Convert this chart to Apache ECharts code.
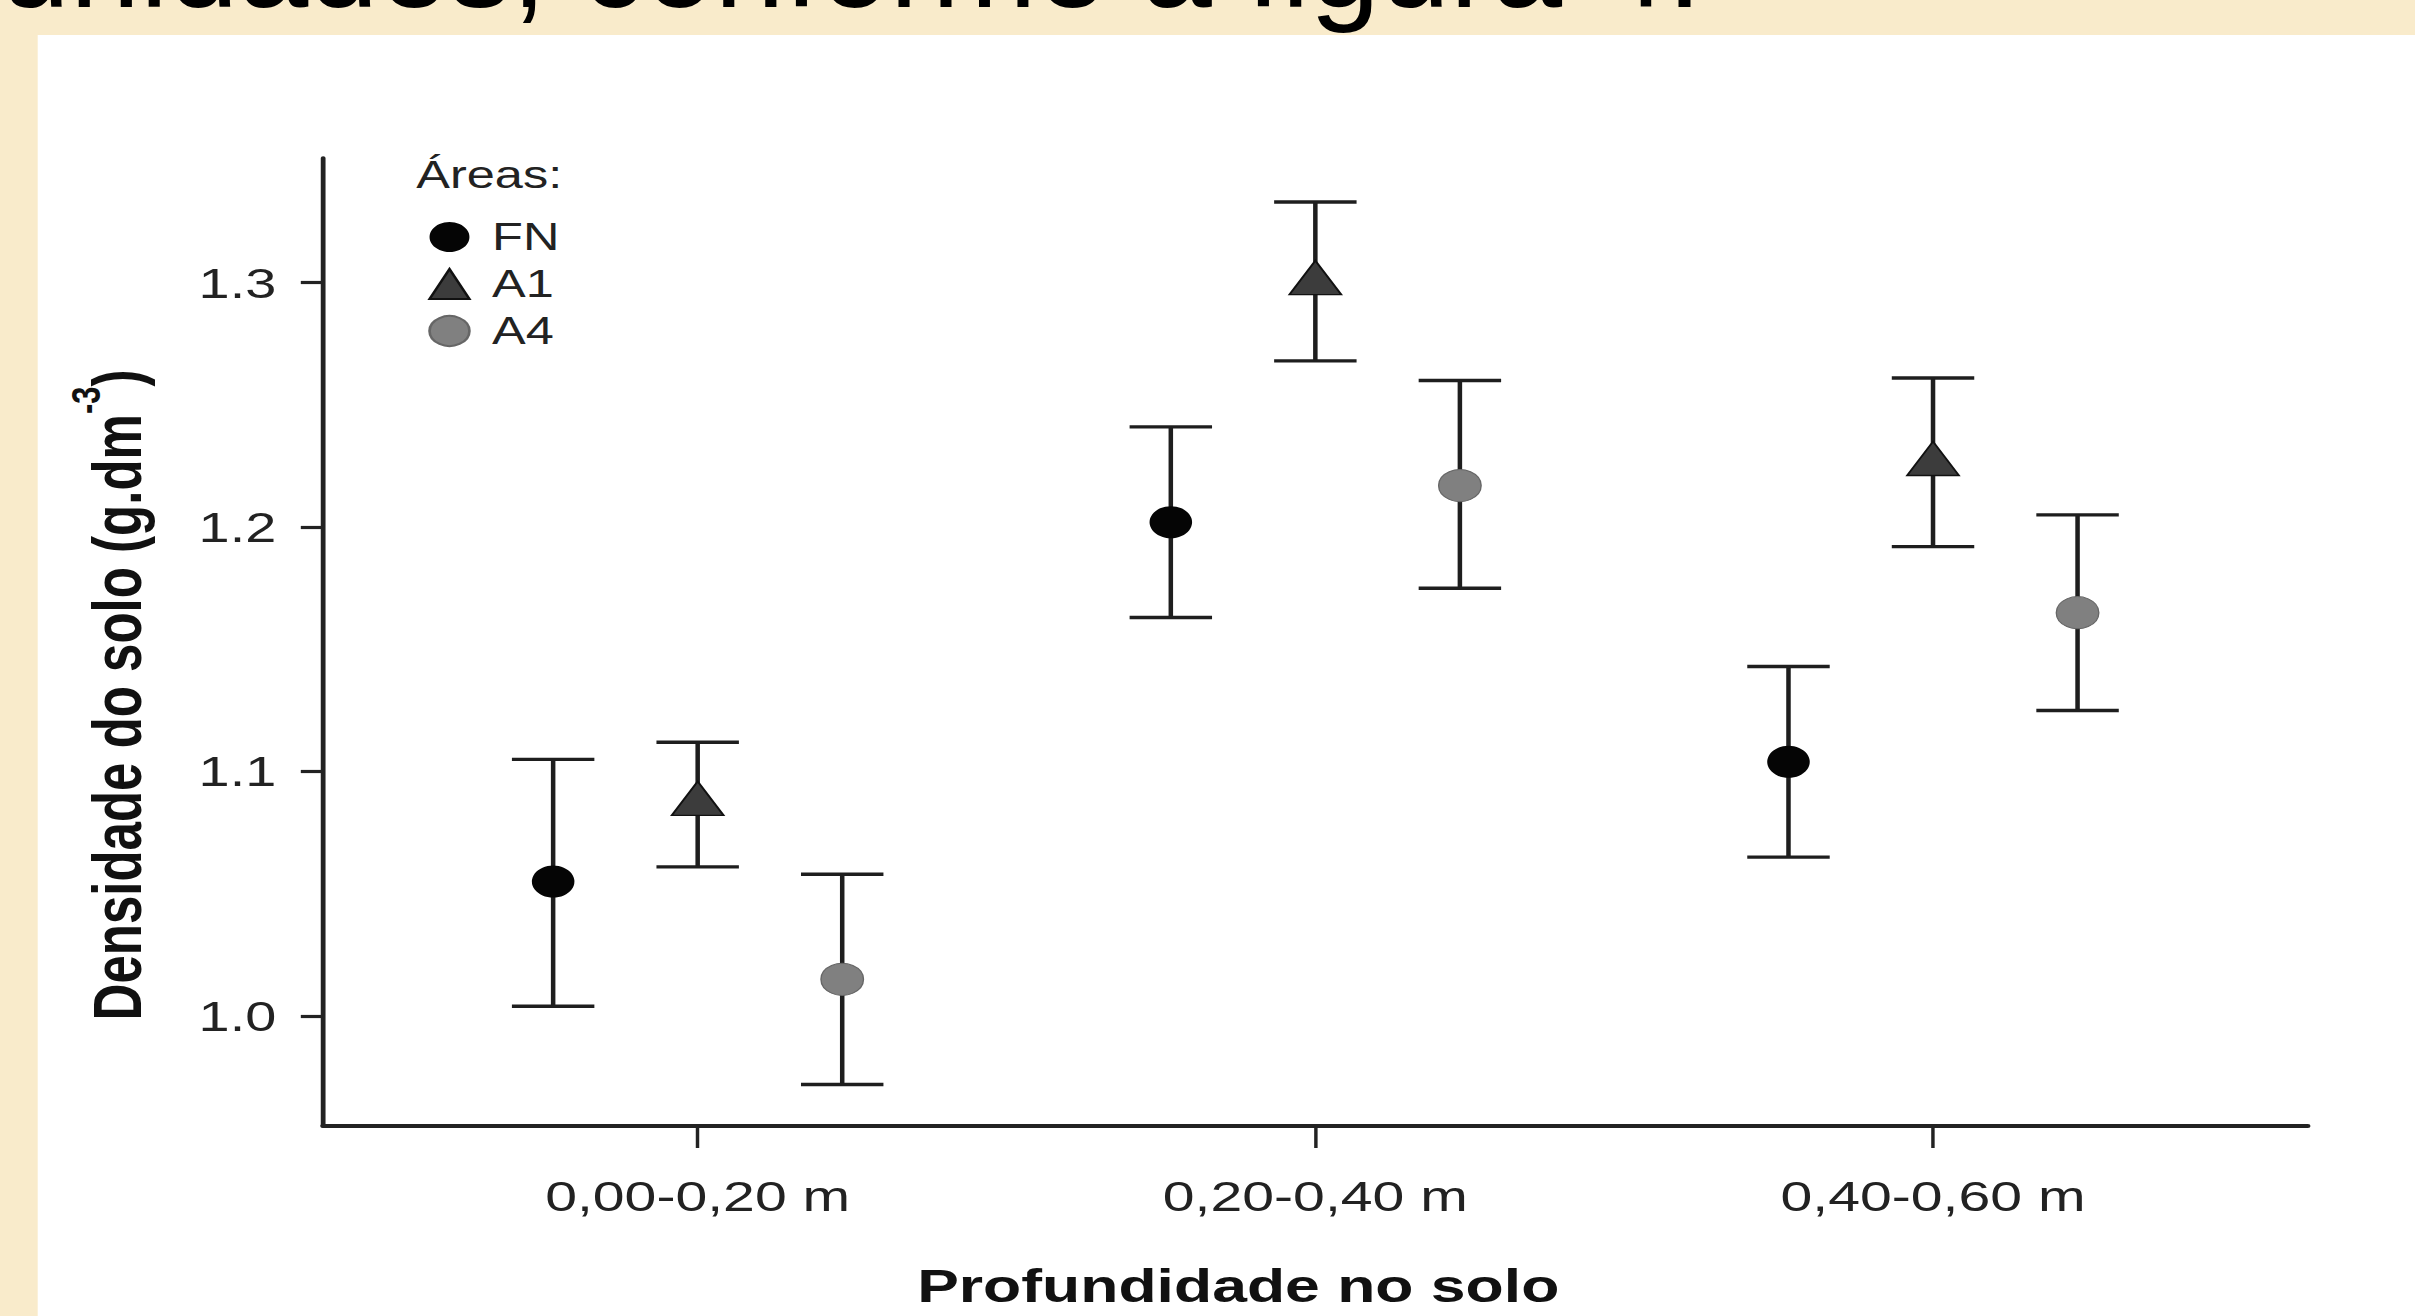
<!DOCTYPE html>
<html>
<head>
<meta charset="utf-8">
<script src="https://cdn.jsdelivr.net/npm/echarts@6/dist/echarts.min.js"></script>
<style>
html, body { margin: 0; padding: 0; width: 2415px; height: 1316px; overflow: hidden; background: #f9ebcb; }
#chart { width: 1816px; height: 1316px; transform: scaleX(1.329846); transform-origin: 0 0; }
</style>
</head>
<body>
<div id="chart"></div>
<script>
// ---- data ----
const categories = ['0,00-0,20 m', '0,20-0,40 m', '0,40-0,60 m'];
const seriesNames = ['FN', 'A1', 'A4'];
const fnMean  = [1.055, 1.202, 1.104];
const fnLower = [1.004, 1.163, 1.065];
const fnUpper = [1.105, 1.241, 1.143];
const a1Mean  = [1.087, 1.300, 1.226];
const a1Lower = [1.061, 1.268, 1.192];
const a1Upper = [1.112, 1.333, 1.261];
const a4Mean  = [1.015, 1.217, 1.165];
const a4Lower = [0.972, 1.175, 1.125];
const a4Upper = [1.058, 1.260, 1.205];
const yTickValues = [1.0, 1.1, 1.2, 1.3];
const yAxisTitle = 'Densidade do solo (g.dm';
const yAxisTitleSup = '-3';
const xAxisTitle = 'Profundidade no solo';
const legendTitle = 'Áreas:';
const pageText = 'unidades, conforme a figura 4.';

// ---- layout ----
const SX = 1.329846;               // horizontal stretch of the original figure
const FONT = '"Liberation Sans", Arial, Helvetica, sans-serif';
const dodge = [-0.234, 0, 0.234];
const xTickValues = categories.map((c, i) => i + 1);

const groups = [
  { name: 'FN', mean: fnMean, lower: fnLower, upper: fnUpper,
    symbol: 'circle', size: 32, offset: [0, 0], color: '#050505', border: '#000000', bw: 0 },
  { name: 'A1', mean: a1Mean, lower: a1Lower, upper: a1Upper,
    symbol: 'triangle', size: [39, 34], offset: [0, -5], color: '#3c3c3c', border: '#111111', bw: 1.5 },
  { name: 'A4', mean: a4Mean, lower: a4Lower, upper: a4Upper,
    symbol: 'circle', size: 32, offset: [0, 0], color: '#808080', border: '#666666', bw: 1 }
];

function errorBarItem(params, api) {
  const x = api.value(0);
  const pHi = api.coord([x, api.value(2)]);
  const pLo = api.coord([x, api.value(1)]);
  const hw = 31;
  const st = { stroke: '#1e1e1e', lineWidth: 3.4 };
  return {
    type: 'group',
    children: [
      { type: 'line', shape: { x1: pHi[0], y1: pHi[1], x2: pLo[0], y2: pLo[1] }, style: st },
      { type: 'line', shape: { x1: pHi[0] - hw, y1: pHi[1], x2: pHi[0] + hw, y2: pHi[1] }, style: st },
      { type: 'line', shape: { x1: pLo[0] - hw, y1: pLo[1], x2: pLo[0] + hw, y2: pLo[1] }, style: st }
    ]
  };
}

const series = [];
groups.forEach((g, gi) => {
  series.push({
    name: g.name + ' erro',
    type: 'custom',
    renderItem: errorBarItem,
    encode: { x: 0, y: [1, 2] },
    data: categories.map((c, i) => [i + 1 + dodge[gi], g.lower[i], g.upper[i]]),
    z: 2,
    silent: true
  });
});
groups.forEach((g, gi) => {
  series.push({
    name: g.name,
    type: 'scatter',
    symbol: g.symbol,
    symbolSize: g.size,
    symbolOffset: g.offset,
    itemStyle: { color: g.color, borderColor: g.border, borderWidth: g.bw, opacity: 1 },
    data: categories.map((c, i) => [i + 1 + dodge[gi], g.mean[i]]),
    z: 5
  });
});

const chart = echarts.init(document.getElementById('chart'), null, { renderer: 'svg' });
chart.setOption({
  animation: false,
  backgroundColor: '#f9ebcb',
  textStyle: { fontFamily: FONT },
  graphic: [
    { type: 'rect', z: -10, silent: true,
      shape: { x: 37.7 / SX, y: 35, width: 1816, height: 1300 },
      style: { fill: '#ffffff' } },
    { type: 'text', z: 10, silent: true, x: 0, y: -36, scaleX: 1 / SX,
      style: { text: pageText, fontSize: 126, fontFamily: FONT, fill: '#000000',
               align: 'left', verticalAlign: 'middle' } }
  ],
  title: {
    text: legendTitle, left: 313, top: 156, padding: 0,
    textStyle: { fontSize: 38, fontWeight: 'normal', color: '#222222', fontFamily: FONT }
  },
  legend: {
    data: seriesNames, orient: 'vertical', left: 322, top: 218, padding: 0,
    itemWidth: 30, itemHeight: 30, itemGap: 9,
    textStyle: { fontSize: 38, color: '#222222', fontFamily: FONT, padding: [0, 0, 0, 12] },
    selectedMode: false
  },
  grid: { left: 242.7, right: 80.5, top: 158, bottom: 190, containLabel: false, outerBoundsMode: 'none' },
  xAxis: {
    type: 'value', min: 0.393, max: 3.607,
    name: xAxisTitle, nameLocation: 'middle', nameGap: 140,
    nameTextStyle: { fontSize: 47, lineHeight: 40, fontWeight: 'bold', color: '#111111', fontFamily: FONT, padding: [0, 116, 0, 0] },
    axisLine: { show: true, onZero: false, lineStyle: { color: '#222222', width: 3.8 } },
    axisTick: { show: true, inside: false, length: 22, customValues: xTickValues, lineStyle: { color: '#222222', width: 2.6 } },
    axisLabel: { show: true, customValues: xTickValues, margin: 49, fontSize: 43, color: '#222222', fontFamily: FONT,
                 formatter: v => categories[Math.round(v) - 1] },
    splitLine: { show: false }
  },
  yAxis: {
    type: 'value', min: 0.955, max: 1.351,
    name: '{b|' + yAxisTitle + '}{sup|' + yAxisTitleSup + '}{b|)}',
    nameLocation: 'middle', nameRotate: 90, nameGap: 114,
    nameTextStyle: {
      padding: [0, 106, 0, 0],
      rich: {
        b: { fontSize: 51, fontWeight: 'bold', color: '#111111', fontFamily: FONT, lineHeight: 80 },
        sup: { fontSize: 31, fontWeight: 'bold', color: '#111111', fontFamily: FONT, lineHeight: 30, verticalAlign: 'top' }
      }
    },
    axisLine: { show: true, onZero: false, lineStyle: { color: '#222222', width: 3.6 } },
    axisTick: { show: true, inside: false, length: 16.5, customValues: yTickValues, lineStyle: { color: '#222222', width: 3.2 } },
    axisLabel: { show: true, customValues: yTickValues, margin: 35, fontSize: 42, color: '#222222', fontFamily: FONT,
                 formatter: v => v.toFixed(1) },
    splitLine: { show: false }
  },
  series: series
});
</script>
</body>
</html>
